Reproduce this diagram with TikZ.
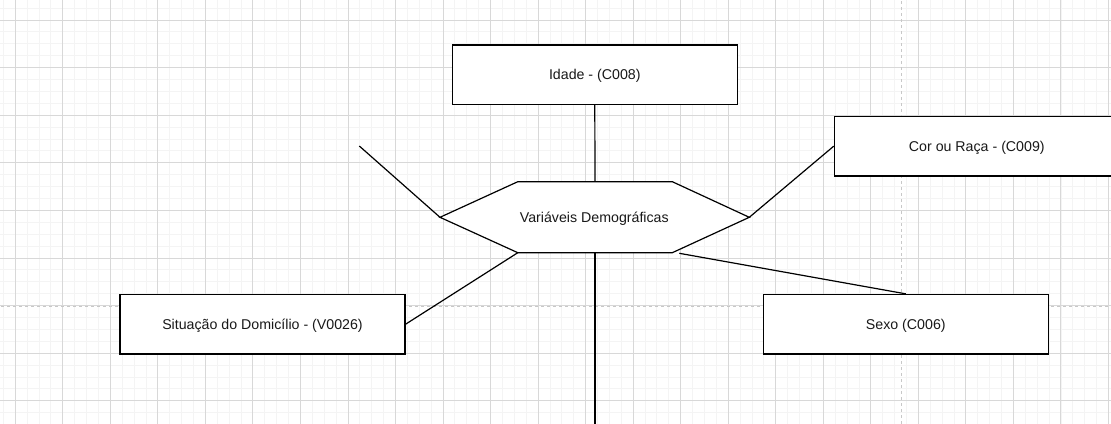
\documentclass[tikz,border=0pt]{standalone}
\usepackage{fontspec}
\setmainfont{Liberation Sans}
\definecolor{gridminor}{HTML}{F4F4F4}
\definecolor{gridmajor}{HTML}{D8D8D8}
\definecolor{pagedash}{HTML}{C8C8C8}
\tikzset{
  txt/.style={font=\fontsize{14.2}{17}\selectfont, text=black!90, text height=10.2pt, text depth=0pt},
  box/.style={txt, draw=black, line width=1.2pt, fill=white, minimum width=285pt, minimum height=59.5pt, inner sep=0pt},
  conn/.style={draw=black, line width=1.2pt},
  hexshape/.style={draw=black, line width=1.2pt, fill=white, line join=miter},
  minorline/.style={draw=gridminor, line width=1pt},
  majorline/.style={draw=gridmajor, line width=1pt},
  pageline/.style={draw=pagedash, line width=1pt, dash pattern=on 3pt off 3pt},
}
\begin{document}
\begin{tikzpicture}[x=1pt, y=-1pt]
\useasboundingbox (0,0) rectangle (1111,423);
\clip (0,0) rectangle (1111,423);
\fill[white] (0,0) rectangle (1111,423);
% grid
\foreach \k in {-2,...,94} {
  \draw[minorline] ({15.3+\k*11.883},-5) -- ({15.3+\k*11.883},430);
}
\foreach \k in {-2,...,37} {
  \draw[minorline] (-5,{20+\k*11.9}) -- (1120,{20+\k*11.9});
}
\foreach \k in {-1,...,23} {
  \draw[majorline] ({15.3+\k*47.53},-5) -- ({15.3+\k*47.53},430);
}
\foreach \k in {-1,...,9} {
  \draw[majorline] (-5,{20+\k*47.6}) -- (1120,{20+\k*47.6});
}
\draw[pageline] (-5,306.3) -- (1120,306.3);
\draw[pageline] (901.7,-5) -- (901.7,430);

% hexagon
\coordinate (hl) at (440,217.3);
\coordinate (htl) at (517.8,181.7);
\coordinate (htr) at (672.3,181.7);
\coordinate (hr) at (749.3,217.3);
\coordinate (hbr) at (672.3,252.7);
\coordinate (hbl) at (517.8,252.7);
\coordinate (htop) at (595,181.7);
\coordinate (hbot) at (595,252.7);
\coordinate (hsx) at (679.3,253.3);
\draw[hexshape] (hl) -- (htl) -- (htr) -- (hr) -- (hbr) -- (hbl) -- cycle;
\node[txt, inner sep=0pt] (demo) at (594.3,217.2) {Variáveis Demográficas};

% boxes
\node[box] (idade) at (594.8,74.8) {Idade - (C008)};
\node[box] (cor) at (976.8,146.2) {Cor ou Raça - (C009)};
\node[box] (sit) at (262.5,324.2) {Situação do Domicílio - (V0026)};
\node[box] (sexo) at (905.8,324.2) {Sexo (C006)};

% free ends
\coordinate (freeul) at (359.3,146);
\coordinate (freebot) at (595,430);

% connectors
\draw[conn] (idade.south) -- (htop);
\draw[conn] (freeul) -- (hl);
\draw[conn] (hr) -- (cor.west);
\draw[conn] (hbl) -- (sit.east);
\draw[conn] (hbot) -- (freebot);
\draw[conn] (hsx) -- (sexo.north);
\end{tikzpicture}
\end{document}
